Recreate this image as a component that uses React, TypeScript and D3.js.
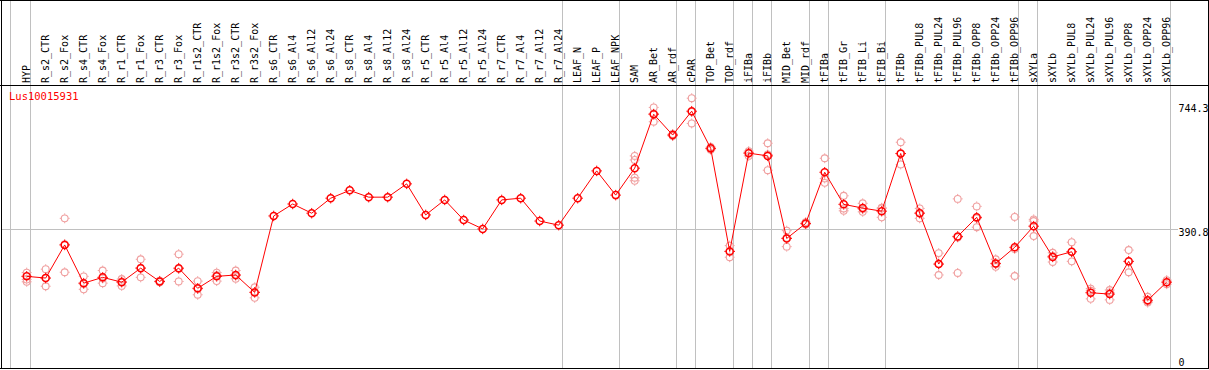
import React from "react";
import * as d3 from "d3";

const categories = [
  "HYP", "R_s2_CTR", "R_s2_Fox", "R_s4_CTR", "R_s4_Fox", "R_r1_CTR", "R_r1_Fox", "R_r3_CTR", "R_r3_Fox",
  "R_r1s2_CTR", "R_r1s2_Fox", "R_r3s2_CTR", "R_r3s2_Fox", "R_s6_CTR", "R_s6_Al4", "R_s6_Al12", "R_s6_Al24",
  "R_s8_CTR", "R_s8_Al4", "R_s8_Al12", "R_s8_Al24", "R_r5_CTR", "R_r5_Al4", "R_r5_Al12", "R_r5_Al24",
  "R_r7_CTR", "R_r7_Al4", "R_r7_Al12", "R_r7_Al24", "LEAF_N", "LEAF_P", "LEAF_NPK", "SAM", "AR_Bet", "AR_rdf",
  "cPAR", "TOP_Bet", "TOP_rdf", "iFIBa", "iFIBb", "MID_Bet", "MID_rdf", "tFIBa", "tFIB_Gr", "tFIB_Li", "tFIB_Bi",
  "tFIBb", "tFIBb_PUL8", "tFIBb_PUL24", "tFIBb_PUL96", "tFIBb_OPP8", "tFIBb_OPP24", "tFIBb_OPP96", "sXYLa",
  "sXYLb", "sXYLb_PUL8", "sXYLb_PUL24", "sXYLb_PUL96", "sXYLb_OPP8", "sXYLb_OPP24", "sXYLb_OPP96",
];

const means = [
  251, 246, 343, 231, 248, 234, 275, 236, 275, 216, 251, 255, 204, 428, 463, 436, 480, 503, 483, 483, 522,
  431, 475, 416, 390, 475, 480, 413, 401, 480, 560, 489, 568, 726, 665, 735, 626, 324, 612, 604, 362, 406,
  556, 462, 451, 442, 611, 436, 287, 368, 424, 289, 336, 398, 308, 323, 203, 199, 295, 181, 234,
];

const replicates: number[][] = [
  [262, 242, 235], [272, 246, 222], [421, 263, 345], [251, 213, 229], [268, 231, 245], [243, 223, 236],
  [301, 248, 276], [238, 234, 236], [316, 236, 273], [237, 197, 214], [262, 237, 254], [268, 244, 253],
  [219, 188, 205],
  [], [], [], [], [], [], [], [], [], [], [], [], [], [], [], [], [], [], [],
  [604, 592, 540, 531], [746, 704, 728], [668, 662, 665], [773, 699, 733], [630, 622, 626], [341, 307, 325],
  [618, 604, 614], [641, 562, 608], [385, 338, 364], [410, 403, 405], [597, 538, 525], [487, 450, 443],
  [465, 440, 448], [452, 424, 450], [644, 579, 610], [450, 421, 437], [319, 255, 287], [478, 261, 365],
  [456, 395, 421], [301, 279, 287], [425, 252, 331], [418, 413, 369], [320, 293, 311], [351, 295, 323],
  [215, 185, 209], [211, 182, 204], [328, 263, 294], [191, 174, 178], [240, 228, 234],
];

// group separators drawn after these category indices (-1 = left edge)
const separatorsAfter = [-1, 0, 28, 31, 34, 35, 37, 38, 39, 41, 42, 45, 52, 53, 60];

const yTickValues = [744.3, 390.8, 0];
const yTickLabels = ["744.3", "390.8", "0"];
const gridValues = [390.8];
const geneName = "Lus10015931";

const W = 1209;
const H = 370;
const MONO = "'DejaVu Sans Mono', 'Liberation Mono', monospace";

function Marker({ x, y, r, color, sw }: { x: number; y: number; r: number; color: string; sw: number }) {
  const t = 1;
  const o = r + sw / 2;
  return (
    <g>
      <circle cx={x} cy={y} r={r} fill="none" stroke={color} strokeWidth={sw} />
      <line x1={x} y1={y - o + 0.3} x2={x} y2={y - o - t} stroke={color} strokeWidth={1} />
      <line x1={x} y1={y + o - 0.3} x2={x} y2={y + o + t} stroke={color} strokeWidth={1} />
      <line x1={x - o + 0.3} y1={y} x2={x - o - t} y2={y} stroke={color} strokeWidth={1} />
      <line x1={x + o - 0.3} y1={y} x2={x + o + t} y2={y} stroke={color} strokeWidth={1} />
    </g>
  );
}

export default function App() {
  const x = d3.scalePoint<string>().domain(categories).range([26.7, 1166.7]);
  const step = x.step();
  const y = d3.scaleLinear().domain([0, 744.3]).range([362, 108]);
  const xi = (i: number) => (x(categories[0]) as number) + i * step;

  const line = d3
    .line<number>()
    .x((_, i) => x(categories[i]) as number)
    .y((d) => y(d));

  const headerY = 85.5;
  const plotBottom = 368.5;
  const labelOffsets = [0, 4, 0.5];

  return (
    <svg
      width={W}
      height={H}
      style={{ position: "absolute", left: 0, top: 0, background: "#fff" }}
      shapeRendering="crispEdges"
    >
      <rect x={0} y={0} width={W} height={H} fill="#fff" />
      {separatorsAfter.map((s) => {
        const sx = Math.round(xi(s) + 4) - 0.5 + (s === -1 ? -1 : 0);
        return <line key={s} x1={sx} x2={sx} y1={0} y2={plotBottom} stroke="#c0c0c0" strokeWidth={1} />;
      })}
      {gridValues.map((g) => (
        <line key={g} x1={1} x2={1178} y1={Math.round(y(g)) + 0.5} y2={Math.round(y(g)) + 0.5} stroke="#c0c0c0" />
      ))}
      <line x1={0} x2={W} y1={0.5} y2={0.5} stroke="#000" />
      <line x1={0} x2={W} y1={headerY} y2={headerY} stroke="#000" />
      <line x1={0} x2={W} y1={plotBottom} y2={plotBottom} stroke="#000" />
      <line x1={1.5} x2={1.5} y1={0} y2={plotBottom} stroke="#000" />
      <line x1={1208.5} x2={1208.5} y1={0} y2={plotBottom} stroke="#000" />
      {categories.map((c) => {
        const px = (x(c) as number) + 3.3;
        return (
          <text
            key={c}
            transform={`translate(${px},83) rotate(-90)`}
            fontFamily={MONO}
            fontSize={10}
            fill="#000"
          >
            {c}
          </text>
        );
      })}
      <text x={9} y={100} fontFamily={MONO} fontSize={10.5} fill="#ff0000">
        {geneName}
      </text>
      {yTickValues.map((v, i) => (
        <text
          key={v}
          x={1178.5}
          y={y(v) + labelOffsets[i]}
          dy="0.35em"
          fontFamily={MONO}
          fontSize={10}
          fill="#000"
        >
          {yTickLabels[i]}
        </text>
      ))}
      <g shapeRendering="auto">
        {replicates.map((reps, i) =>
          reps.map((v, j) => (
            <Marker key={`${i}-${j}`} x={x(categories[i]) as number} y={y(v)} r={3.4} color="#f0a0a0" sw={1.1} />
          ))
        )}
        <path d={line(means) || ""} fill="none" stroke="#ff0000" strokeWidth={1} />
        {means.map((v, i) => (
          <Marker key={i} x={x(categories[i]) as number} y={y(v)} r={3.5} color="#ff0000" sw={1.5} />
        ))}
      </g>
    </svg>
  );
}
